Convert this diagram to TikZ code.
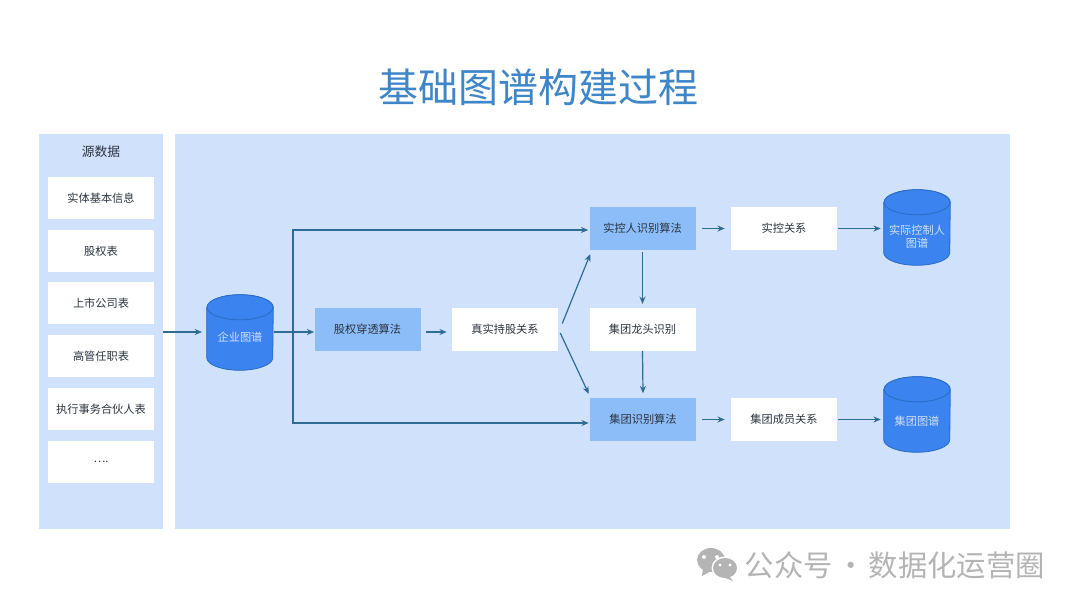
\documentclass[tikz,border=0pt]{standalone}
\usepackage{fontspec}
\setmainfont{Noto Sans CJK SC}
\usetikzlibrary{arrows.meta}
\definecolor{panelc}{HTML}{D0E1FB}
\definecolor{algoc}{HTML}{8CBDF8}
\definecolor{cylc}{HTML}{3B83EE}
\definecolor{cyledge}{HTML}{2A6BC4}
\definecolor{arrc}{HTML}{2F6C94}
\definecolor{titlec}{HTML}{3F86C8}
\definecolor{textc}{HTML}{2B3440}
\definecolor{markc}{HTML}{B4B4B4}
\tikzset{
  panel/.style={fill=panelc,draw=none,inner sep=0pt,anchor=north west},
  wbox/.style={fill=white,draw=none,minimum width=79.5pt,minimum height=32pt,inner sep=0pt,text=textc,font=\fontsize{8.4}{10}\selectfont},
  abox/.style={wbox,fill=algoc},
  db/.style={minimum width=49.5pt,minimum height=56.25pt,inner sep=0pt,draw=none},
  dbbody/.style={fill=cylc,draw=cyledge,line width=0.6pt},
  dbtext/.style={text=panelc,align=center,inner sep=0pt,font=\fontsize{8.4}{10}\selectfont},
  arr/.style={draw=arrc,line width=0.9pt,-{Stealth[length=5.5pt,width=4.5pt]}},
  wm/.style={text=markc,font=\fontsize{22}{26}\selectfont,inner sep=0pt}
}
\newcommand{\cylshape}[1]{%
  \path[dbbody] ([yshift=-9.4pt]#1.north west) -- ([yshift=9.4pt]#1.south west)
    arc[start angle=180,end angle=360,x radius=24.75pt,y radius=9.4pt]
    -- ([yshift=-9.4pt]#1.north east)
    arc[start angle=0,end angle=180,x radius=24.75pt,y radius=9.4pt] -- cycle;
  \path[dbbody] ([yshift=-9.4pt]#1.north) circle[x radius=24.75pt,y radius=9.4pt];
}
\begin{document}
\begin{tikzpicture}[x=0.75pt,y=-0.75pt]
\useasboundingbox (0,0) rectangle (1080,608);
\fill[white] (0,0) rectangle (1080,608);
\node[text=titlec,font=\fontsize{30}{34}\selectfont,inner sep=0pt] (title) at (538.5,87) {基础图谱构建过程};
\node[panel,minimum width=93pt,minimum height=296.25pt] (src) at (39,134) {};
\node[panel,minimum width=626.25pt,minimum height=296.25pt] (main) at (175,134) {};
\node[text=textc,font=\fontsize{9.6}{12}\selectfont,inner sep=0pt] (srct) at (101,152) {源数据};
\node[wbox] (s1) at (101,198) {实体基本信息};
\node[wbox] (s2) at (101,251) {股权表};
\node[wbox] (s3) at (101,303) {上市公司表};
\node[wbox] (s4) at (101,356) {高管任职表};
\node[wbox] (s5) at (101,409) {执行事务合伙人表};
\node[wbox] (s6) at (101,462) {….};
\node[db] (qy) at (240,332.5) {};
\node[db] (sk) at (917,227.5) {};
\node[db] (jt) at (917,414.5) {};
\cylshape{qy}
\cylshape{sk}
\cylshape{jt}
\node[dbtext] (qyt) at (240,337) {企业图谱};
\node[dbtext] (skt) at (917,236.5) {实际控制人\\图谱};
\node[dbtext] (jtt) at (917,421) {集团图谱};
\node[abox] (gq) at (367.5,329.5) {股权穿透算法};
\node[wbox] (zs) at (505,329.5) {真实持股关系};
\node[abox] (skr) at (642.5,228.5) {实控人识别算法};
\node[wbox] (skg) at (784,228.5) {实控关系};
\node[wbox] (lt) at (642.5,329.5) {集团龙头识别};
\node[abox] (jts) at (643,419.5) {集团识别算法};
\node[wbox] (jtg) at (784,419.5) {集团成员关系};
\coordinate (br) at (293,332);
\coordinate (srcout) at (163,332);
\coordinate (qyin) at (202,332);
\coordinate (qyout) at (274,332);
\draw[arr] (srcout) -- (qyin);
\draw[arr] (qyout) -- (qyout -| gq.west);
\draw[arr] (br) |- ([shift={(-1,1.5)}]skr.west);
\draw[arr] (br) |- ([shift={(-1,3.5)}]jts.west);
\draw[arr] ([shift={(5,2.5)}]gq.east) -- ([shift={(-5,2.5)}]zs.west);
\draw[arr] ([shift={(4,-6)}]zs.east) -- ([shift={(1,4)}]skr.south west);
\draw[arr] ([shift={(2,3.5)}]zs.east) -- ([shift={(-1,-4)}]jts.north west);
\draw[arr] ([xshift=4.5pt]skr.east) -- ([xshift=-4.5pt]skg.west);
\draw[arr] ([xshift=0.75pt]skg.east) -- ([shift={(-3,1)}]sk.west);
\draw[arr] ([yshift=-1.5pt]skr.south) -- ([yshift=3pt]lt.north);
\draw[arr] (lt.south) -- ([yshift=3.5pt]jts.north);
\draw[arr] ([xshift=4.5pt]jts.east) -- ([xshift=-4.5pt]jtg.west);
\draw[arr] ([xshift=0.75pt]jtg.east) -- ([shift={(-3,5)}]jt.west);
% watermark
\fill[markc] (711,560) ellipse (14 and 12);
\fill[markc] (703,568) -- (702,576) -- (711,571) -- cycle;
\fill[white] (725,568) ellipse (13.5 and 11.5);
\fill[markc] (725,568) ellipse (12 and 10);
\fill[markc] (729,576) -- (733,581) -- (723,577) -- cycle;
\fill[white] (704,557) circle (2) (717,557) circle (2) (720,565) circle (1.6) (730,565) circle (1.6);
\node[wm,anchor=east] (wmt) at (1045,565) {公众号\kern2.5pt·\kern2.5pt数据化运营圈};
\end{tikzpicture}
\end{document}
